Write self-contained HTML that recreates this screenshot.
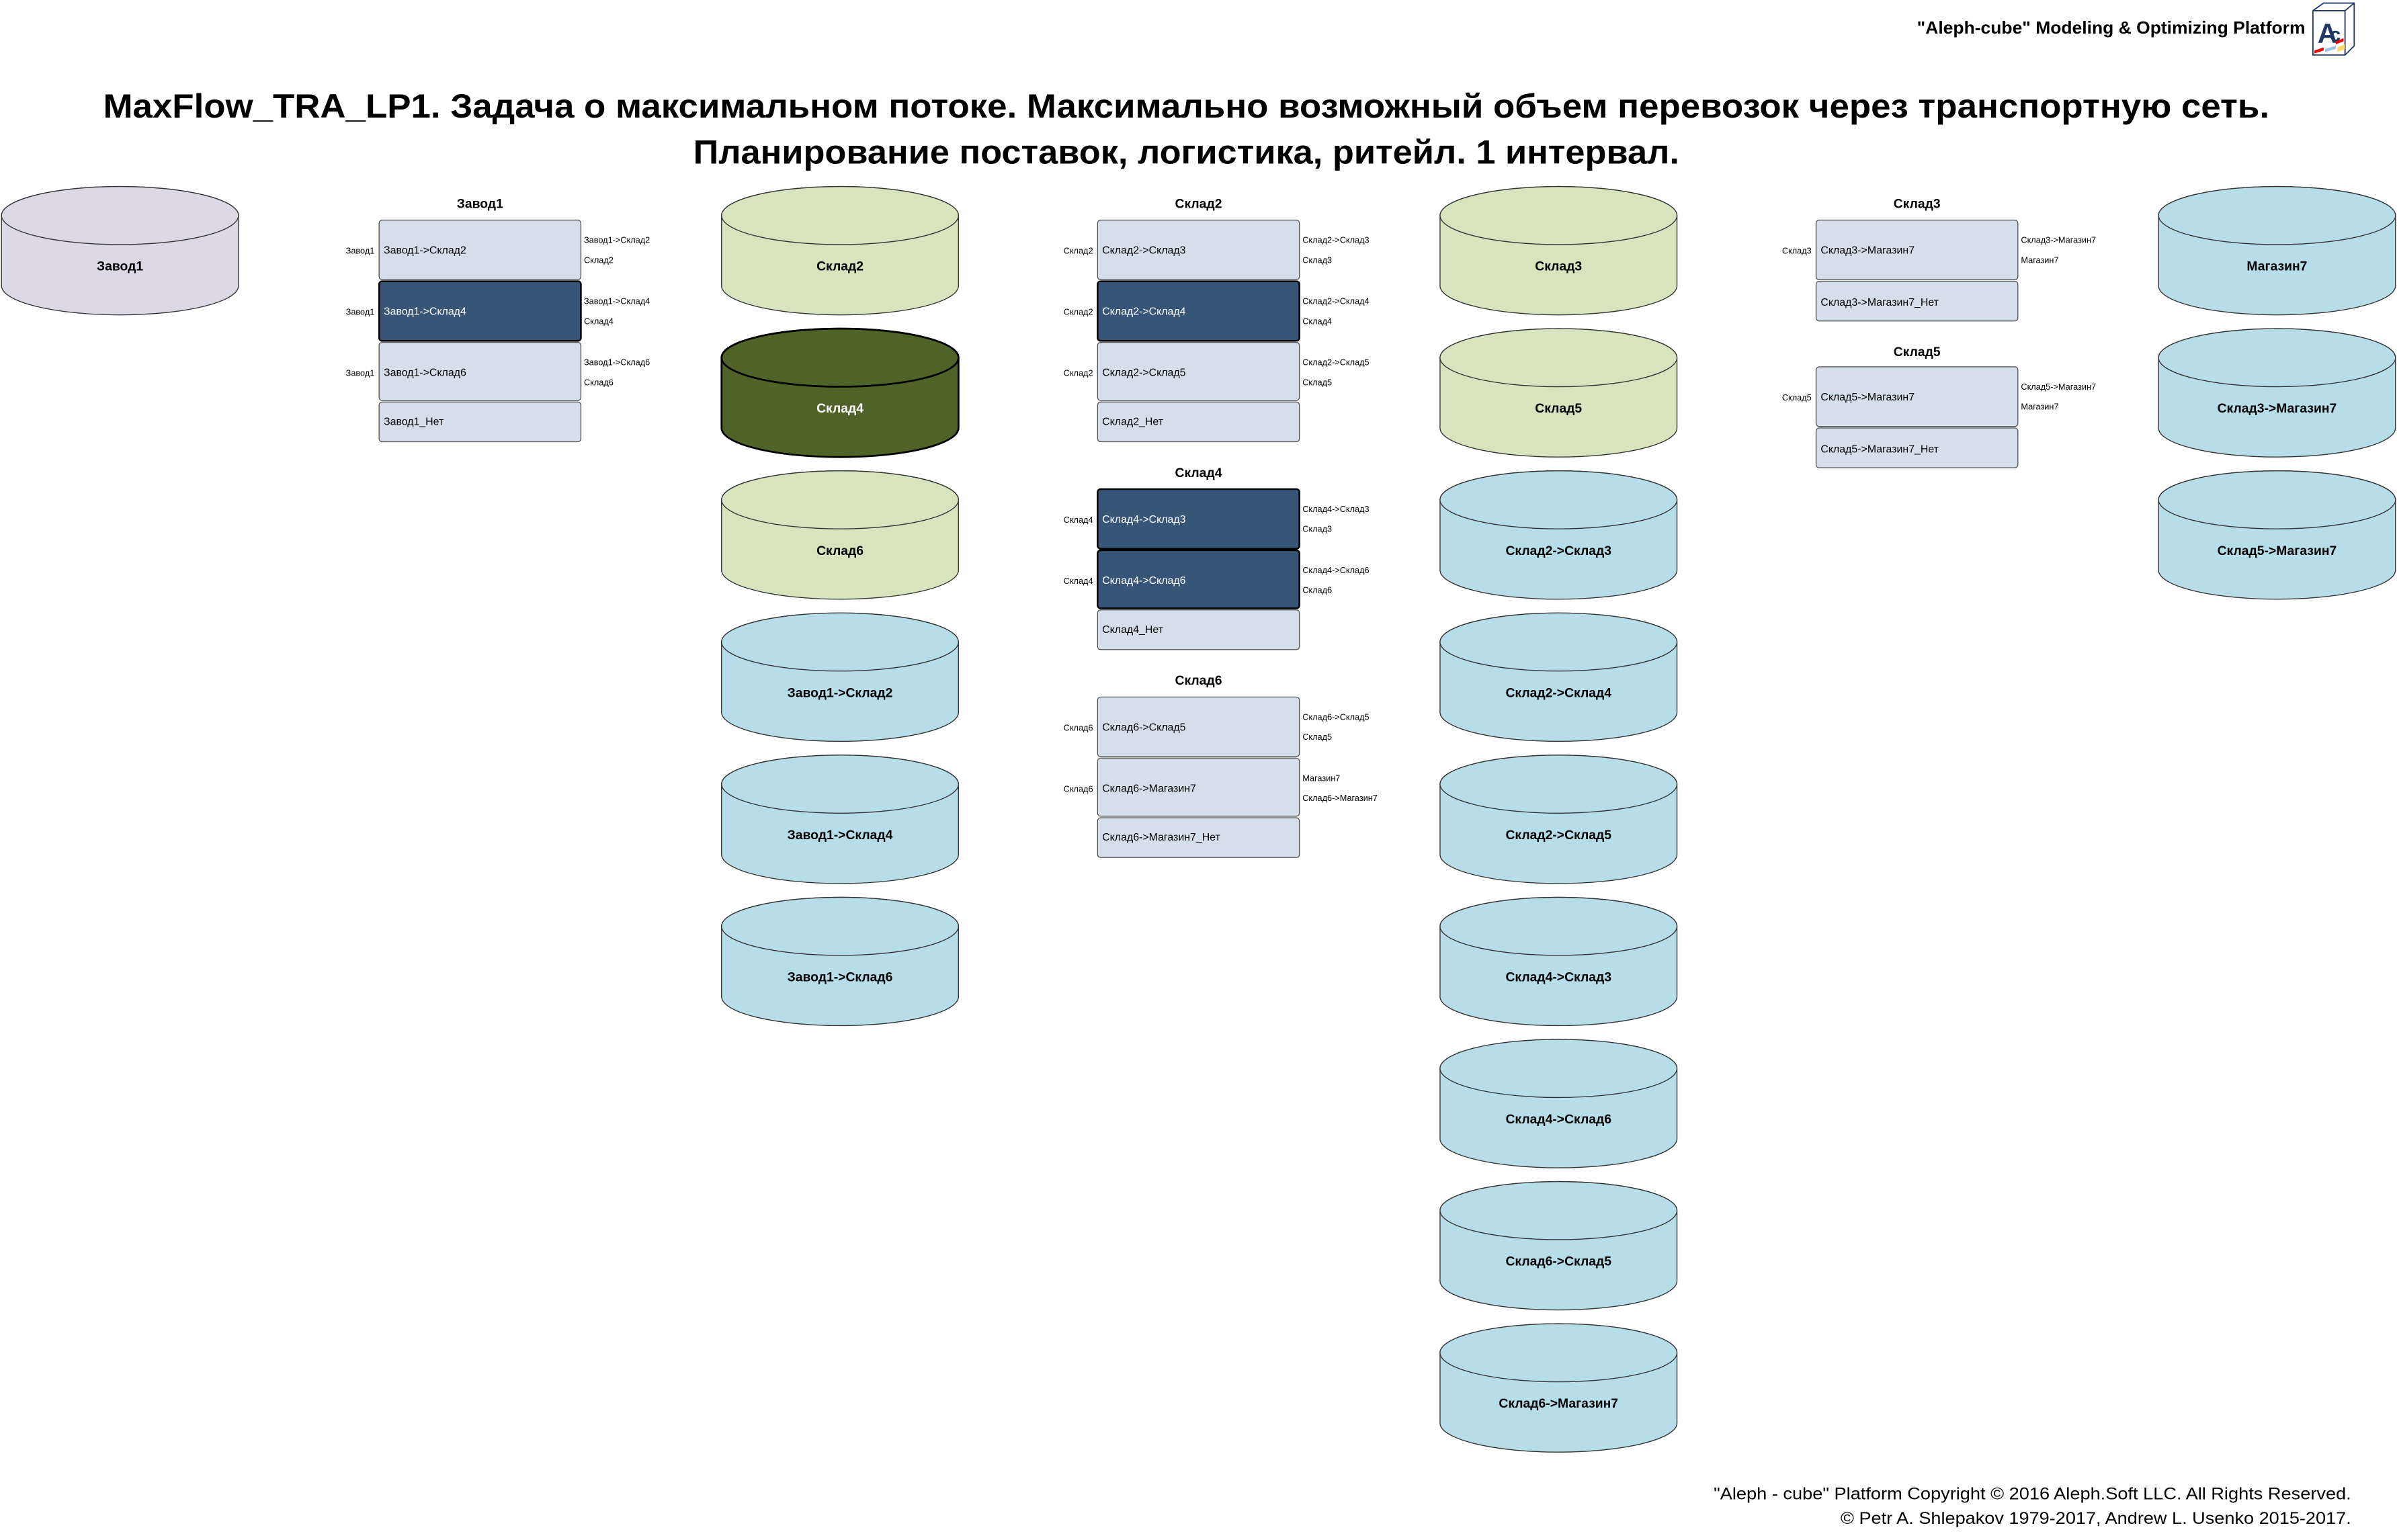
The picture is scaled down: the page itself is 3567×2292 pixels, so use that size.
<!DOCTYPE html>
<html><head><meta charset="utf-8"><style>
html,body{margin:0;padding:0;background:#fff;}
svg{display:block;}
text{font-family:"Liberation Sans","DejaVu Sans",sans-serif;}
.cl{font-size:8.5px;font-weight:bold;text-anchor:middle;}
.tt{font-size:8.5px;font-weight:bold;text-anchor:middle;}
.rl{font-size:7px;}
.sl{font-size:5.6px;}
.sr{font-size:5.6px;text-anchor:end;}
</style></head><body>
<svg width="3567" height="2292" viewBox="0 0 1568 1007.5" preserveAspectRatio="none" xmlns="http://www.w3.org/2000/svg">
<defs>
<g id="cyl"><path d="M0,19 A77.5,19 0 0 1 155,19 V65 A77.5,19 0 0 1 0,65 Z"/><ellipse cx="77.5" cy="19" rx="77.5" ry="19"/></g>
</defs>
<!-- header -->
<text x="1508" y="22" font-size="11.5" font-weight="bold" text-anchor="end" textLength="254" lengthAdjust="spacingAndGlyphs">"Aleph-cube" Modeling &amp; Optimizing Platform</text>
<g>
<polygon points="1513,7 1520,2 1540,2 1540,30 1534,36 1513,36" fill="#fff" stroke="#1f3864" stroke-width="0.8"/>
<polyline points="1513,7 1534,7 1534,36 M1534,7 1540,2" fill="none" stroke="#1f3864" stroke-width="0.8"/>
<line x1="1534" y1="7" x2="1540" y2="2" stroke="#1f3864" stroke-width="0.8"/>
<text x="1516" y="28" font-size="18" font-family="Liberation Serif" fill="#1f3864" font-weight="bold">A</text>
<text x="1524" y="27" font-size="13" font-family="Liberation Serif" fill="#1f3864" font-weight="bold">c</text>
<polygon points="1514,33 1520,31 1520,33 1514,35" fill="#e00"/>
<polygon points="1521,32 1528,30 1528,32 1521,34" fill="#9cc3e6"/>
<polygon points="1529,31 1534,29 1534,32 1529,34" fill="#ffd966"/>
<polygon points="1528,27 1533,25 1533,27 1528,29" fill="#e00"/>
</g>
<!-- title -->
<text x="776" y="77" font-size="22" font-weight="bold" text-anchor="middle" textLength="1417" lengthAdjust="spacingAndGlyphs">MaxFlow_TRA_LP1. Задача о максимальном потоке. Максимально возможный объем перевозок через транспортную сеть.</text>
<text x="776" y="107" font-size="22" font-weight="bold" text-anchor="middle" textLength="645" lengthAdjust="spacingAndGlyphs">Планирование поставок, логистика, ритейл. 1 интервал.</text>

<!-- cylinders -->
<g stroke="#333" stroke-width="0.6">
<use href="#cyl" x="1" y="122" fill="#ddd8e6"/>
<use href="#cyl" x="472" y="122" fill="#d7e4bd"/>
<use href="#cyl" x="472" y="215" fill="#4f6228" stroke="#000" stroke-width="1.2"/>
<use href="#cyl" x="472" y="308" fill="#d7e4bd"/>
<use href="#cyl" x="472" y="401" fill="#b7dde8"/>
<use href="#cyl" x="472" y="494" fill="#b7dde8"/>
<use href="#cyl" x="472" y="587" fill="#b7dde8"/>
<use href="#cyl" x="942" y="122" fill="#d7e4bd"/>
<use href="#cyl" x="942" y="215" fill="#d7e4bd"/>
<use href="#cyl" x="942" y="308" fill="#b7dde8"/>
<use href="#cyl" x="942" y="401" fill="#b7dde8"/>
<use href="#cyl" x="942" y="494" fill="#b7dde8"/>
<use href="#cyl" x="942" y="587" fill="#b7dde8"/>
<use href="#cyl" x="942" y="680" fill="#b7dde8"/>
<use href="#cyl" x="942" y="773" fill="#b7dde8"/>
<use href="#cyl" x="942" y="866" fill="#b7dde8"/>
<use href="#cyl" x="1412" y="122" fill="#b7dde8"/>
<use href="#cyl" x="1412" y="215" fill="#b7dde8"/>
<use href="#cyl" x="1412" y="308" fill="#b7dde8"/>
</g>
<g class="cl">
<text x="78.5" y="177" class="cl">Завод1</text>
<text x="549.5" y="177" class="cl">Склад2</text>
<text x="549.5" y="270" class="cl" fill="#fff" font-weight="normal">Склад4</text>
<text x="549.5" y="363" class="cl">Склад6</text>
<text x="549.5" y="456" class="cl">Завод1-&gt;Склад2</text>
<text x="549.5" y="549" class="cl">Завод1-&gt;Склад4</text>
<text x="549.5" y="642" class="cl">Завод1-&gt;Склад6</text>
<text x="1019.5" y="177" class="cl">Склад3</text>
<text x="1019.5" y="270" class="cl">Склад5</text>
<text x="1019.5" y="363" class="cl">Склад2-&gt;Склад3</text>
<text x="1019.5" y="456" class="cl">Склад2-&gt;Склад4</text>
<text x="1019.5" y="549" class="cl">Склад2-&gt;Склад5</text>
<text x="1019.5" y="642" class="cl">Склад4-&gt;Склад3</text>
<text x="1019.5" y="735" class="cl">Склад4-&gt;Склад6</text>
<text x="1019.5" y="828" class="cl">Склад6-&gt;Склад5</text>
<text x="1019.5" y="921" class="cl">Склад6-&gt;Магазин7</text>
<text x="1489.5" y="177" class="cl">Магазин7</text>
<text x="1489.5" y="270" class="cl">Склад3-&gt;Магазин7</text>
<text x="1489.5" y="363" class="cl">Склад5-&gt;Магазин7</text>
</g>

<!-- tables -->
<g stroke="#555" stroke-width="0.6" fill="#d5dfeb">
<rect x="248" y="144" width="132" height="39" rx="2"/>
<rect x="248" y="184" width="132" height="39" rx="2" fill="#375577" stroke="#000" stroke-width="1.1"/>
<rect x="248" y="224" width="132" height="38" rx="2"/>
<rect x="248" y="263" width="132" height="26" rx="2"/>

<rect x="718" y="144" width="132" height="39" rx="2"/>
<rect x="718" y="184" width="132" height="39" rx="2" fill="#375577" stroke="#000" stroke-width="1.1"/>
<rect x="718" y="224" width="132" height="38" rx="2"/>
<rect x="718" y="263" width="132" height="26" rx="2"/>

<rect x="718" y="320" width="132" height="39" rx="2" fill="#375577" stroke="#000" stroke-width="1.1"/>
<rect x="718" y="360" width="132" height="38" rx="2" fill="#375577" stroke="#000" stroke-width="1.1"/>
<rect x="718" y="399" width="132" height="26" rx="2"/>

<rect x="718" y="456" width="132" height="39" rx="2"/>
<rect x="718" y="496" width="132" height="38" rx="2"/>
<rect x="718" y="535" width="132" height="26" rx="2"/>

<rect x="1188" y="144" width="132" height="39" rx="2"/>
<rect x="1188" y="184" width="132" height="26" rx="2"/>

<rect x="1188" y="240" width="132" height="39" rx="2"/>
<rect x="1188" y="280" width="132" height="26" rx="2"/>
</g>

<text x="314" y="136" class="tt">Завод1</text>
<text x="784" y="136" class="tt">Склад2</text>
<text x="784" y="312" class="tt">Склад4</text>
<text x="784" y="448" class="tt">Склад6</text>
<text x="1254" y="136" class="tt">Склад3</text>
<text x="1254" y="233" class="tt">Склад5</text>

<!-- Завод1 table -->
<text x="251" y="166" class="rl">Завод1-&gt;Склад2</text>
<text x="251" y="206" class="rl" fill="#fff">Завод1-&gt;Склад4</text>
<text x="251" y="246" class="rl">Завод1-&gt;Склад6</text>
<text x="251" y="278" class="rl">Завод1_Нет</text>
<text x="245" y="166" class="sr">Завод1</text>
<text x="245" y="206" class="sr">Завод1</text>
<text x="245" y="246" class="sr">Завод1</text>
<text x="382" y="159" class="sl">Завод1-&gt;Склад2</text><text x="382" y="172" class="sl">Склад2</text>
<text x="382" y="199" class="sl">Завод1-&gt;Склад4</text><text x="382" y="212" class="sl">Склад4</text>
<text x="382" y="239" class="sl">Завод1-&gt;Склад6</text><text x="382" y="252" class="sl">Склад6</text>

<!-- Склад2 table -->
<text x="721" y="166" class="rl">Склад2-&gt;Склад3</text>
<text x="721" y="206" class="rl" fill="#fff">Склад2-&gt;Склад4</text>
<text x="721" y="246" class="rl">Склад2-&gt;Склад5</text>
<text x="721" y="278" class="rl">Склад2_Нет</text>
<text x="715" y="166" class="sr">Склад2</text>
<text x="715" y="206" class="sr">Склад2</text>
<text x="715" y="246" class="sr">Склад2</text>
<text x="852" y="159" class="sl">Склад2-&gt;Склад3</text><text x="852" y="172" class="sl">Склад3</text>
<text x="852" y="199" class="sl">Склад2-&gt;Склад4</text><text x="852" y="212" class="sl">Склад4</text>
<text x="852" y="239" class="sl">Склад2-&gt;Склад5</text><text x="852" y="252" class="sl">Склад5</text>

<!-- Склад4 table -->
<text x="721" y="342" class="rl" fill="#fff">Склад4-&gt;Склад3</text>
<text x="721" y="382" class="rl" fill="#fff">Склад4-&gt;Склад6</text>
<text x="721" y="414" class="rl">Склад4_Нет</text>
<text x="715" y="342" class="sr">Склад4</text>
<text x="715" y="382" class="sr">Склад4</text>
<text x="852" y="335" class="sl">Склад4-&gt;Склад3</text><text x="852" y="348" class="sl">Склад3</text>
<text x="852" y="375" class="sl">Склад4-&gt;Склад6</text><text x="852" y="388" class="sl">Склад6</text>

<!-- Склад6 table -->
<text x="721" y="478" class="rl">Склад6-&gt;Склад5</text>
<text x="721" y="518" class="rl">Склад6-&gt;Магазин7</text>
<text x="721" y="550" class="rl">Склад6-&gt;Магазин7_Нет</text>
<text x="715" y="478" class="sr">Склад6</text>
<text x="715" y="518" class="sr">Склад6</text>
<text x="852" y="471" class="sl">Склад6-&gt;Склад5</text><text x="852" y="484" class="sl">Склад5</text>
<text x="852" y="511" class="sl">Магазин7</text><text x="852" y="524" class="sl">Склад6-&gt;Магазин7</text>

<!-- Склад3 table -->
<text x="1191" y="166" class="rl">Склад3-&gt;Магазин7</text>
<text x="1191" y="200" class="rl">Склад3-&gt;Магазин7_Нет</text>
<text x="1185" y="166" class="sr">Склад3</text>
<text x="1322" y="159" class="sl">Склад3-&gt;Магазин7</text><text x="1322" y="172" class="sl">Магазин7</text>

<!-- Склад5 table -->
<text x="1191" y="262" class="rl">Склад5-&gt;Магазин7</text>
<text x="1191" y="296" class="rl">Склад5-&gt;Магазин7_Нет</text>
<text x="1185" y="262" class="sr">Склад5</text>
<text x="1322" y="255" class="sl">Склад5-&gt;Магазин7</text><text x="1322" y="268" class="sl">Магазин7</text>

<!-- footer -->
<text x="1538" y="981" font-size="11" text-anchor="end" textLength="417" lengthAdjust="spacingAndGlyphs">"Aleph - cube" Platform Copyright © 2016 Aleph.Soft LLC. All Rights Reserved.</text>
<text x="1538" y="997" font-size="11" text-anchor="end" textLength="334" lengthAdjust="spacingAndGlyphs">© Petr A. Shlepakov 1979-2017, Andrew L. Usenko 2015-2017.</text>
</svg>
</body></html>
